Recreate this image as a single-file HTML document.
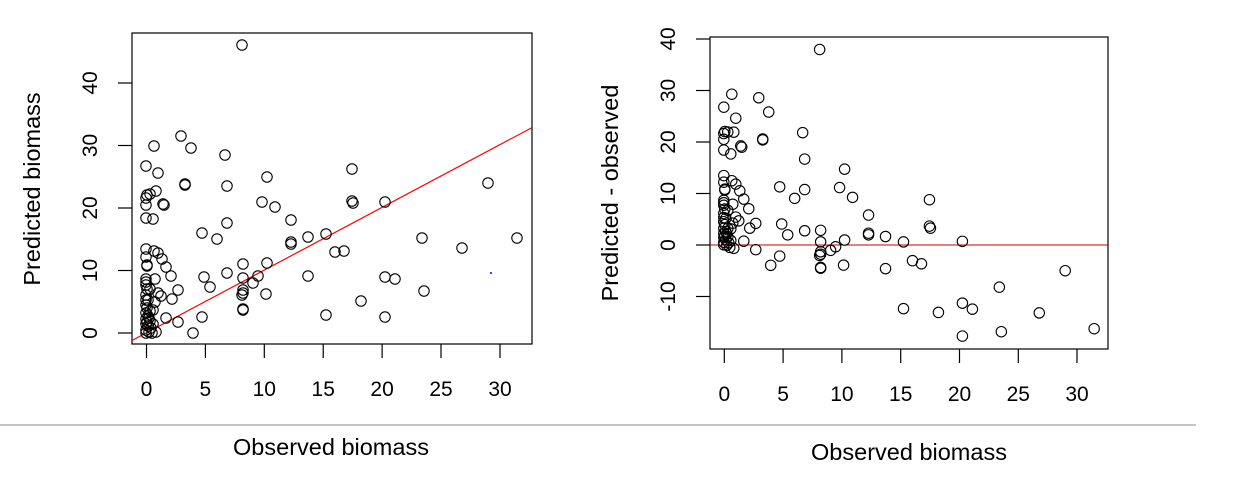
<!DOCTYPE html>
<html><head><meta charset="utf-8"><style>
html,body{margin:0;padding:0;background:#fff;}
svg text{font-family:"Liberation Sans",Arial,sans-serif;font-size:21px;fill:#000;}
svg text.t{font-size:23.5px;}
</style></head><body>
<svg id="s" width="1243" height="480" xmlns="http://www.w3.org/2000/svg">
<rect width="1243" height="480" fill="#fff"/>
<line x1="0" y1="425" x2="1196" y2="425" stroke="#888" stroke-width="1"/>
<!-- left plot -->
<rect x="132" y="33" width="400" height="311" fill="none" stroke="#000" stroke-width="1.2"/>
<g stroke="#000" stroke-width="1.2">
<line x1="146.5" y1="344" x2="146.5" y2="358"/><line x1="205.4" y1="344" x2="205.4" y2="358"/><line x1="264.3" y1="344" x2="264.3" y2="358"/><line x1="323.2" y1="344" x2="323.2" y2="358"/><line x1="382.1" y1="344" x2="382.1" y2="358"/><line x1="441" y1="344" x2="441" y2="358"/><line x1="500" y1="344" x2="500" y2="358"/>
<line x1="118" y1="333" x2="132" y2="333"/><line x1="118" y1="270.5" x2="132" y2="270.5"/><line x1="118" y1="208" x2="132" y2="208"/><line x1="118" y1="145.5" x2="132" y2="145.5"/><line x1="118" y1="83" x2="132" y2="83"/>
</g>
<g text-anchor="middle">
<text x="146.5" y="396">0</text><text x="205.4" y="396">5</text><text x="264.3" y="396">10</text><text x="323.2" y="396">15</text><text x="382.1" y="396">20</text><text x="441" y="396">25</text><text x="500" y="396">30</text>
<text transform="translate(97,333) rotate(-90)">0</text>
<text transform="translate(97,270.5) rotate(-90)">10</text>
<text transform="translate(97,208) rotate(-90)">20</text>
<text transform="translate(97,145.5) rotate(-90)">30</text>
<text transform="translate(97,83) rotate(-90)">40</text>
<text class="t" x="331" y="455">Observed biomass</text>
<text class="t" transform="translate(40,189) rotate(-90)">Predicted biomass</text>
</g>
<line x1="132" y1="340.5" x2="532" y2="127.6" stroke="#f00" stroke-width="1.2"/>
<circle cx="491" cy="273" r="1" fill="#00f"/>
<g id="L" fill="none" stroke="#000" stroke-width="1.1"></g>
<!-- right plot -->
<rect x="710" y="37" width="398" height="312" fill="none" stroke="#000" stroke-width="1.2"/>
<g stroke="#000" stroke-width="1.2">
<line x1="724.3" y1="349" x2="724.3" y2="363"/><line x1="783.1" y1="349" x2="783.1" y2="363"/><line x1="841.9" y1="349" x2="841.9" y2="363"/><line x1="900.7" y1="349" x2="900.7" y2="363"/><line x1="959.5" y1="349" x2="959.5" y2="363"/><line x1="1018.3" y1="349" x2="1018.3" y2="363"/><line x1="1077" y1="349" x2="1077" y2="363"/>
<line x1="696" y1="296.5" x2="710" y2="296.5"/><line x1="696" y1="245" x2="710" y2="245"/><line x1="696" y1="193.5" x2="710" y2="193.5"/><line x1="696" y1="142" x2="710" y2="142"/><line x1="696" y1="90.5" x2="710" y2="90.5"/><line x1="696" y1="39" x2="710" y2="39"/>
</g>
<g text-anchor="middle">
<text x="724.3" y="401">0</text><text x="783.1" y="401">5</text><text x="841.9" y="401">10</text><text x="900.7" y="401">15</text><text x="959.5" y="401">20</text><text x="1018.3" y="401">25</text><text x="1077" y="401">30</text>
<text transform="translate(675,296.5) rotate(-90)">-10</text>
<text transform="translate(675,245) rotate(-90)">0</text>
<text transform="translate(675,193.5) rotate(-90)">10</text>
<text transform="translate(675,142) rotate(-90)">20</text>
<text transform="translate(675,90.5) rotate(-90)">30</text>
<text transform="translate(675,39) rotate(-90)">40</text>
<text class="t" x="909" y="460">Observed biomass</text>
<text class="t" transform="translate(618,193) rotate(-90)">Predicted - observed</text>
</g>
<line x1="710" y1="245" x2="1108" y2="245" stroke="#c00" stroke-width="1"/>
<g id="R" fill="none" stroke="#000" stroke-width="1.1"></g>
</svg>
<script>
var P=[[242,45],[181,136],[191,148],[225,155],[154,146],[146,166],[158,173],[185,184],[185,185],[227,186],[267,177],[352,169],[352,201],[353,203],[488,183],[147,195],[156,191],[150,194],[146,198],[164,205],[146,205],[163,204],[262,202],[275,207],[385,202],[146,218],[153,219],[291,220],[227,223],[202,233],[217,239],[326,234],[308,237],[291,242],[291,244],[422,238],[517,238],[462,248],[335,252],[344,251],[146,249],[154,251],[158,253],[162,259],[146,257],[147,265],[147,266],[166,267],[267,263],[243,264],[171,276],[146,279],[146,282],[146,285],[155,279],[204,277],[210,287],[227,273],[243,278],[258,276],[253,283],[308,276],[385,277],[395,279],[178,290],[172,299],[158,293],[161,296],[146,295],[146,300],[146,305],[153,310],[146,313],[148,316],[146,319],[150,321],[146,324],[148,326],[151,328],[146,330],[149,332],[146,333],[152,333],[147,322],[149,318],[153,324],[166,318],[178,322],[202,317],[193,333],[156,332],[243,309],[243,290],[242,295],[424,291],[266,294],[243,293],[361,301],[243,310],[326,315],[385,317],[150,311],[147,308],[148,300],[150,289],[147,289],[155,302]];
var L=document.getElementById('L'),R=document.getElementById('R'),ns='http://www.w3.org/2000/svg';
P.forEach(function(p){
 var c=document.createElementNS(ns,'circle');c.setAttribute('cx',p[0]);c.setAttribute('cy',p[1]);c.setAttribute('r',5.2);L.appendChild(c);
 var o=(p[0]-146.5)/11.78,pr=(333-p[1])/6.25;
 var d=document.createElementNS(ns,'circle');d.setAttribute('cx',724.3+o*11.76);d.setAttribute('cy',245-(pr-o)*5.15);d.setAttribute('r',5.2);R.appendChild(d);
});
</script>
</body></html>
